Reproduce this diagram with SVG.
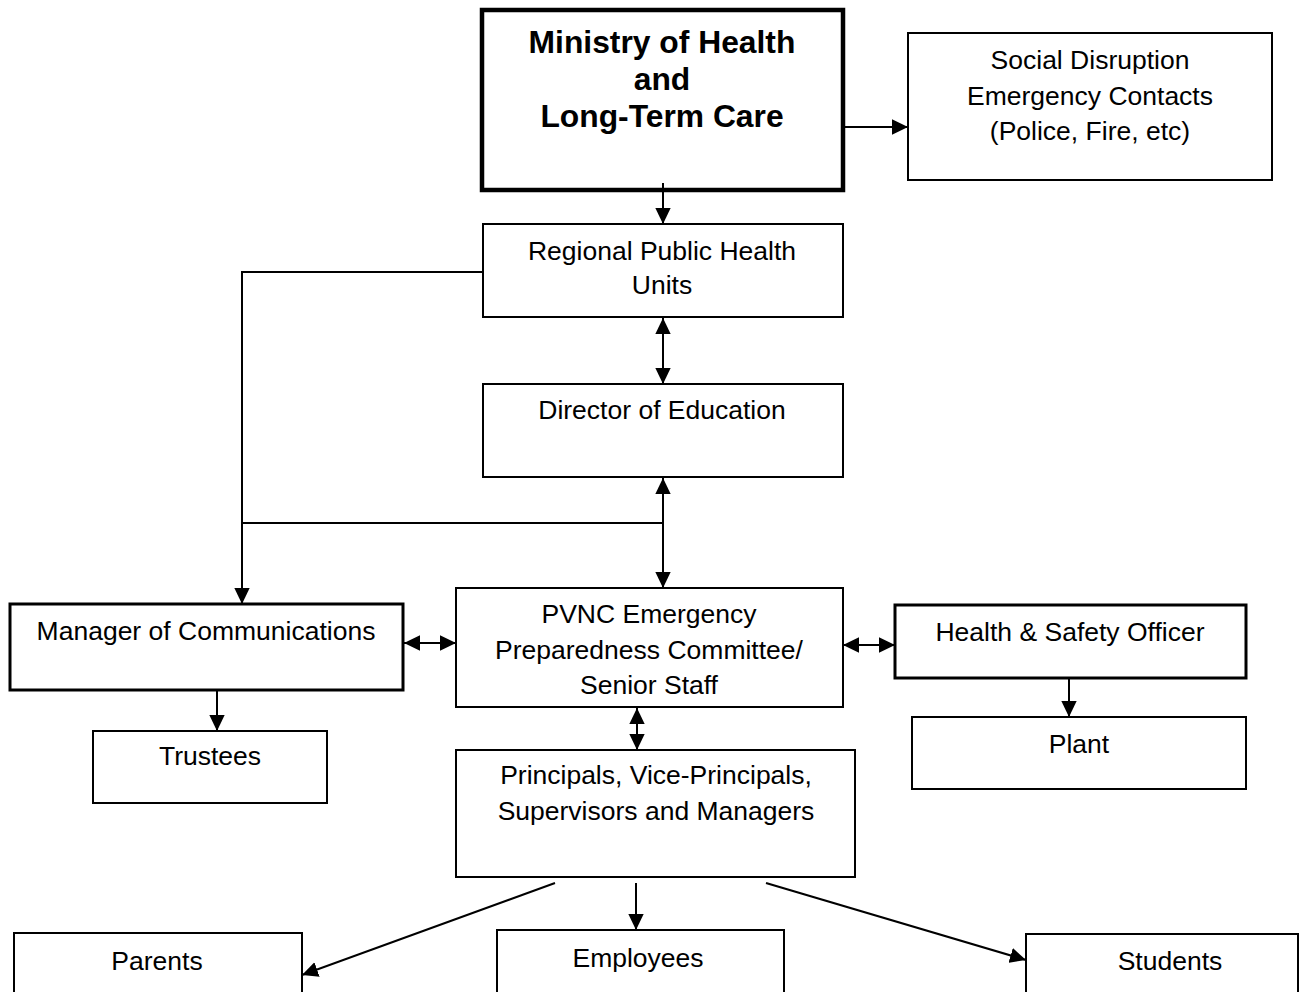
<svg xmlns="http://www.w3.org/2000/svg" width="1301" height="992" viewBox="0 0 1301 992">
<style>
.box{fill:#fff;stroke:#000;stroke-width:2}
.thick{stroke-width:3}
.xthick{stroke-width:4.5}
text{font-family:"Liberation Sans",Arial,sans-serif;font-size:26.5px;fill:#000;text-anchor:middle}
.b{font-weight:bold;font-size:31.8px}
.c{fill:none;stroke:#000;stroke-width:2}
</style>
<defs>
<marker id="ah" markerUnits="userSpaceOnUse" markerWidth="16" markerHeight="16" viewBox="0 0 14 14" refX="14" refY="7" orient="auto-start-reverse">
<path d="M0,0.3 L14,7 L0,13.7 Z" fill="#000"/>
</marker>
</defs>
<rect width="1301" height="992" fill="#fff"/>
<g id="ministry"><rect class="box xthick" x="482" y="10" width="361" height="180"/>
<text class="b" x="662" y="53">Ministry of Health</text>
<text class="b" x="662" y="90">and</text>
<text class="b" x="662" y="127">Long-Term Care</text></g>
<g id="social"><rect class="box" x="908" y="33" width="364" height="147"/>
<text x="1090" y="69">Social Disruption</text>
<text x="1090" y="105">Emergency Contacts</text>
<text x="1090" y="140">(Police, Fire, etc)</text></g>
<g id="regional"><rect class="box" x="483" y="224" width="360" height="93"/>
<text x="662" y="260">Regional Public Health</text>
<text x="662" y="294">Units</text></g>
<g id="director"><rect class="box" x="483" y="384" width="360" height="93"/>
<text x="662" y="419">Director of Education</text></g>
<g id="manager"><rect class="box thick" x="10" y="604" width="393" height="86"/>
<text x="206" y="640">Manager of Communications</text></g>
<g id="pvnc"><rect class="box" x="456" y="588" width="387" height="119"/>
<text x="649" y="623">PVNC Emergency</text>
<text x="649" y="659">Preparedness Committee/</text>
<text x="649" y="694">Senior Staff</text></g>
<g id="hso"><rect class="box thick" x="895" y="605" width="351" height="73"/>
<text x="1070" y="641">Health &amp; Safety Officer</text></g>
<g id="trustees"><rect class="box" x="93" y="731" width="234" height="72"/>
<text x="210" y="765">Trustees</text></g>
<g id="plant"><rect class="box" x="912" y="717" width="334" height="72"/>
<text x="1079" y="753">Plant</text></g>
<g id="principals"><rect class="box" x="456" y="750" width="399" height="127"/>
<text x="656" y="784">Principals, Vice-Principals,</text>
<text x="656" y="820">Supervisors and Managers</text></g>
<g id="parents"><rect class="box" x="14" y="933" width="288" height="60"/>
<text x="157" y="970">Parents</text></g>
<g id="employees"><rect class="box" x="497" y="930" width="287" height="63"/>
<text x="638" y="967">Employees</text></g>
<g id="students"><rect class="box" x="1026" y="934" width="272" height="59"/>
<text x="1170" y="970">Students</text></g>
<g id="connectors">
<line class="c" x1="845" y1="127" x2="908" y2="127" marker-end="url(#ah)"/>
<line class="c" x1="663" y1="183" x2="663" y2="224" marker-end="url(#ah)"/>
<line class="c" x1="663" y1="318" x2="663" y2="384" marker-start="url(#ah)" marker-end="url(#ah)"/>
<polyline class="c" points="483,272 242,272 242,604" marker-end="url(#ah)"/>
<line class="c" x1="242" y1="523" x2="663" y2="523"/>
<line class="c" x1="663" y1="478" x2="663" y2="588" marker-start="url(#ah)" marker-end="url(#ah)"/>
<line class="c" x1="217" y1="691" x2="217" y2="731" marker-end="url(#ah)"/>
<line class="c" x1="404" y1="643" x2="456" y2="643" marker-start="url(#ah)" marker-end="url(#ah)"/>
<line class="c" x1="843" y1="645" x2="895" y2="645" marker-start="url(#ah)" marker-end="url(#ah)"/>
<line class="c" x1="1069" y1="679" x2="1069" y2="717" marker-end="url(#ah)"/>
<line class="c" x1="637" y1="708" x2="637" y2="750" marker-start="url(#ah)" marker-end="url(#ah)"/>
<line class="c" x1="555" y1="883" x2="302" y2="975" marker-end="url(#ah)"/>
<line class="c" x1="636" y1="883" x2="636" y2="930" marker-end="url(#ah)"/>
<line class="c" x1="766" y1="883" x2="1026" y2="960" marker-end="url(#ah)"/>
</g>
</svg>
